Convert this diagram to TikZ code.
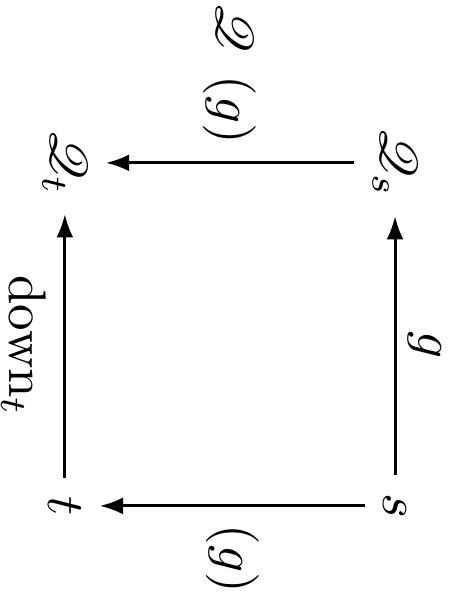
\documentclass[tikz,border=0pt]{standalone}
\usepackage{mathrsfs}
\usetikzlibrary{arrows.meta}

\begin{document}
\begin{tikzpicture}[rotate=-90, transform shape,
  obj/.style={inner sep=3.3pt},
  map/.style={-{Latex[length=4.4pt,width=3.2pt]}, line width=0.55pt},
  lbl/.style={inner sep=3.3pt}
]
\useasboundingbox (0,0) rectangle (3.926,2.998);
% objects of the square
\node[obj] (Qs) at (1.08,2.62) {$\mathscr{Q}_s$};
\node[obj] (s)  at (3.355,2.62) {$s$};
\node[obj] (Qt) at (1.08,0.43) {$\mathscr{Q}_t$};
\node[obj] (t)  at (3.355,0.43) {$t$};

% maps
\draw[map] (s) -- node[lbl, inner sep=0pt, above=2.2pt] {$g$} (Qs);
\draw[map] (t) -- node[lbl, below] {$\mathrm{down}_t$} (Qt);
\draw[map] (Qs) -- node[lbl, left] {$\mathscr{Q}\mkern8mu(g)$} (Qt);
\draw[map] (s) -- node[lbl, right] {$(g)$} (t);
\end{tikzpicture}
\end{document}
